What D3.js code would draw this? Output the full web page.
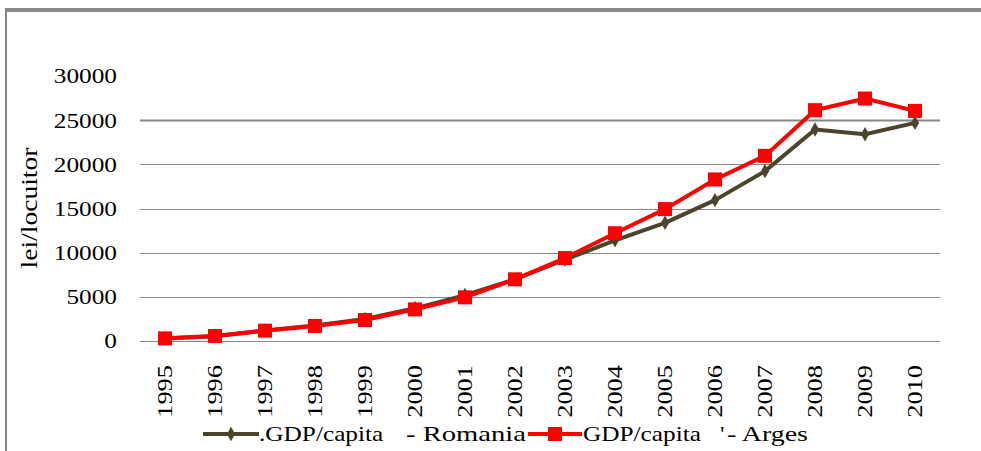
<!DOCTYPE html>
<html><head><meta charset="utf-8">
<script src="https://cdnjs.cloudflare.com/ajax/libs/d3/7.8.5/d3.min.js"></script>
<style>html,body{margin:0;padding:0;background:#fff;overflow:hidden}</style>
</head><body><div id="chart"></div>
<script>
const years = ["1995","1996","1997","1998","1999","2000","2001","2002","2003","2004","2005","2006","2007","2008","2009","2010"];
const romania = [290, 530, 1200, 1750, 2500, 3700, 5200, 7000, 9200, 11400, 13380, 15950, 19230, 23940, 23410, 24690];
const arges = [300, 565, 1170, 1700, 2375, 3580, 4940, 6980, 9390, 12200, 14930, 18290, 20960, 26130, 27450, 26050];
const yTicks = [0, 5000, 10000, 15000, 20000, 25000, 30000];
const yTitle = "lei/locuitor";
const legendRo = [".GDP/capita", "- Romania"];
const legendAr = ["GDP/capita", "'", "- Arges"];

const W = 981, H = 451;
const FONT = '"Liberation Serif"';
const SX = 1.15;
const svg = d3.select("#chart").append("svg").attr("width", W).attr("height", H);

const x = d3.scaleBand().domain(years).range([140, 940]);
const xc = d => x(d) + x.bandwidth() / 2;
const y = d3.scaleLinear().domain([0, 30000]).range([341, 76]);

// frame
svg.append("rect").attr("x", 5).attr("y", 8).attr("width", W).attr("height", 4).attr("fill", "#878787");
svg.append("rect").attr("x", 5).attr("y", 8).attr("width", 2).attr("height", H).attr("fill", "#878787");

// gridlines
svg.append("g").selectAll("line").data(yTicks.filter(v => v < 30000)).join("line")
  .attr("x1", 140).attr("x2", 940)
  .attr("y1", d => Math.round(y(d)) + 0.5).attr("y2", d => Math.round(y(d)) + 0.5)
  .attr("stroke", "#878787").attr("stroke-width", d => d === 25000 ? 2 : 1.2);

// y tick labels
svg.append("g").selectAll("text").data(yTicks).join("text")
  .attr("transform", d => `translate(117,${y(d)}) scale(${SX},1)`).attr("dy", "0.34em")
  .attr("text-anchor", "end").attr("font-size", 22).style("font-family", FONT)
  .attr("fill", "#000").text(d => d);

// y title
svg.append("text").attr("transform", "translate(29,208) rotate(-90) scale(1.2,1)")
  .attr("text-anchor", "middle").attr("dy", "0.34em")
  .attr("font-size", 23).style("font-family", FONT)
  .text(yTitle);

// x labels
svg.append("g").selectAll("text").data(years).join("text")
  .attr("transform", d => `translate(${xc(d)},365) rotate(-90) scale(1.2,1)`)
  .attr("text-anchor", "end").attr("dy", "0.34em")
  .attr("font-size", 22).style("font-family", FONT)
  .text(d => d);

const dark = "#4B452B", red = "#FF0000";
const line = d3.line().x((d, i) => xc(years[i])).y(d => y(d));

// Romania series
svg.append("path").datum(romania).attr("d", line).attr("fill", "none")
  .attr("stroke", dark).attr("stroke-width", 4).attr("stroke-linejoin", "round");
const diamond = d3.symbol().type(d3.symbolDiamond).size(60);
svg.append("g").selectAll("path").data(romania).join("path")
  .attr("transform", (d, i) => `translate(${xc(years[i])},${y(d)})`)
  .attr("d", diamond).attr("fill", dark);

// Arges series
svg.append("path").datum(arges).attr("d", line).attr("fill", "none")
  .attr("stroke", red).attr("stroke-width", 4).attr("stroke-linejoin", "round");
svg.append("g").selectAll("rect").data(arges).join("rect")
  .attr("x", (d, i) => xc(years[i]) - 7).attr("y", d => y(d) - 7)
  .attr("width", 14).attr("height", 14).attr("fill", red);

// legend
const ly = 434;
svg.append("line").attr("x1", 203).attr("x2", 259).attr("y1", ly).attr("y2", ly).attr("stroke", dark).attr("stroke-width", 4);
svg.append("path").attr("transform", `translate(231,${ly})`).attr("d", diamond).attr("fill", dark);
svg.append("line").attr("x1", 528).attr("x2", 582).attr("y1", ly).attr("y2", ly).attr("stroke", red).attr("stroke-width", 4);
svg.append("rect").attr("x", 548).attr("y", ly - 7).attr("width", 14).attr("height", 14).attr("fill", red);

const leg = [
  {t: legendRo[0], x: 259, s: 1.15},
  {t: legendRo[1], x: 406, s: 1.3},
  {t: legendAr[0], x: 583, s: 1.15},
  {t: legendAr[1], x: 720, s: 1.15},
  {t: legendAr[2], x: 727, s: 1.27}
];
svg.append("g").selectAll("text").data(leg).join("text")
  .attr("transform", d => `translate(${d.x},441) scale(${d.s},1)`)
  .attr("font-size", 22).style("font-family", FONT)
  .text(d => d.t);
</script></body></html>
